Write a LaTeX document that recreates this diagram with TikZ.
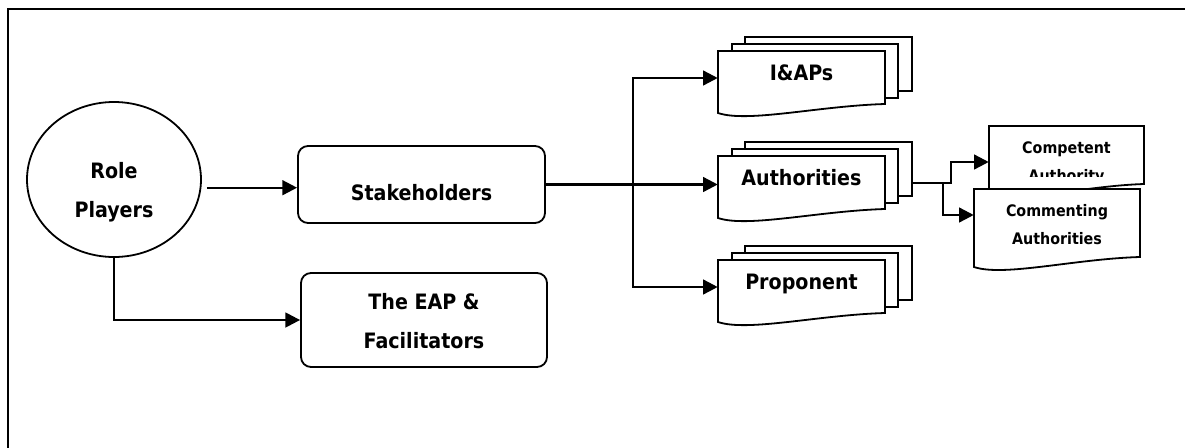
\documentclass[tikz,border=0pt]{standalone}
\usepackage{fontspec}
\setmainfont{DejaVu Sans Condensed}
\usetikzlibrary{arrows.meta,calc,shapes.geometric}
\newcommand\twolines[2]{\begin{tabular}[t]{@{}c@{}}#1\\#2\end{tabular}}
\newcommand\bigfont{\fontsize{15.9pt}{29.25pt}\selectfont\bfseries}
\newcommand\smallfont{\fontsize{11.9pt}{21.2pt}\selectfont\bfseries}
% stacked documents: name, x0, y0, text
\newcommand\docstack[4]{%
  \draw[shapeline] ({#2+27},{#3-14}) rectangle ({#2+194},{#3+40});
  \draw[shapeline] ({#2+14},{#3-7}) rectangle ({#2+180},{#3+47});
  \draw[shapeline] (#2,#3) -- ({#2+167},#3) -- ({#2+167},{#3+53})
     .. controls ({#2+100},{#3+55}) and ({#2+30},{#3+72}) .. (#2,{#3+62}) -- cycle;
  \node[anchorbox, minimum width=125.25pt, minimum height=40.5pt] (#1) at ({#2+83.5},{#3+27}) {};
  \node[anchor=base, font=\bigfont] (#1-t) at ({#2+83.5},{#3+29}) {#4};
}
% single document outline: x0, y0, w, hr
\newcommand\singledoc[4]{%
  \draw[shapeline] (#1,#2) -- ({#1+#3},#2) -- ({#1+#3},{#2+#4})
     .. controls ({#1+0.6*#3},{#2+#4+2}) and ({#1+0.18*#3},{#2+#4+20}) .. (#1,{#2+#4+10}) -- cycle;
}
\tikzset{
  shapeline/.style={line width=1.35pt, fill=white},
  conn/.style={line width=1.8pt, -{Triangle[length=11pt,width=11pt]}},
  plainline/.style={line width=1.8pt},
  anchorbox/.style={draw=none, fill=none, inner sep=0pt},
  roundbox/.style={draw, line width=1.35pt, rounded corners=7.5pt, inner sep=0pt},
}
\begin{document}
\begin{tikzpicture}[x=0.75pt, y=-0.75pt]
\useasboundingbox (0,0) rectangle (1185,447);
% frame (only top and left edges visible)
\draw[line width=1.6pt] (8,460) -- (8,9) -- (1200,9);

% Role Players
\node[ellipse, draw, line width=1.35pt, minimum width=130.5pt, minimum height=116.25pt, inner sep=0pt] (rp) at (114,179.5) {};
\node[anchor=base, font=\bigfont] (rp-t) at (114,178) {\twolines{Role}{Players}};

% Stakeholders
\node[roundbox, minimum width=185.25pt, minimum height=57.75pt] (sh) at (421.5,184.5) {};
\node[anchor=base, font=\bigfont] (sh-t) at (421.5,200.7) {Stakeholders};

% EAP
\node[roundbox, minimum width=184.5pt, minimum height=70.5pt] (eap) at (424,320) {};
\node[anchor=base, font=\bigfont] (eap-t) at (424,309.3) {\twolines{The EAP \&}{Facilitators}};

% document stacks
\docstack{iap}{718}{51}{I\&APs}
\docstack{auth}{718}{156}{Authorities}
\docstack{prop}{718}{260}{Proponent}

% Competent Authority
\singledoc{989}{126}{155}{58}
\node[anchorbox, minimum width=116.25pt, minimum height=54pt] (ca) at (1066.5,162) {};
\begin{scope}
  \clip (989,126) rectangle (1144,176.7);
  \node[anchor=base, font=\smallfont] (ca-t) at (1066.5,153.3) {\twolines{Competent}{Authority}};
\end{scope}

% Commenting Authorities
\singledoc{974}{189}{166}{68}
\node[anchorbox, minimum width=124.5pt, minimum height=39pt] (cm) at (1057,215) {};
\node[anchor=base, font=\smallfont] (cm-t) at (1057,216.7) {\twolines{Commenting}{Authorities}};

% connectors
\draw[conn] ($(rp.east)+(5,8.2)$) -- ($(sh.west)+(0,3.2)$);
\draw[conn] (rp.south) |- (eap.west);
\coordinate (j) at ($(sh.east)+(87,0)$);
\draw[conn] (sh.east) -- (sh.east -| auth.west);
\draw[plainline] (j |- iap.west) -- (j |- prop.west);
\draw[conn] (j) |- (iap.west);
\draw[conn] (j) |- (prop.west);
\draw[conn] ($(auth.east)+(27,0)$) -- ++(39,0) |- (ca.west);
\draw[conn] ($(auth.east)+(58,0)$) |- (cm.west);
\end{tikzpicture}
\end{document}
